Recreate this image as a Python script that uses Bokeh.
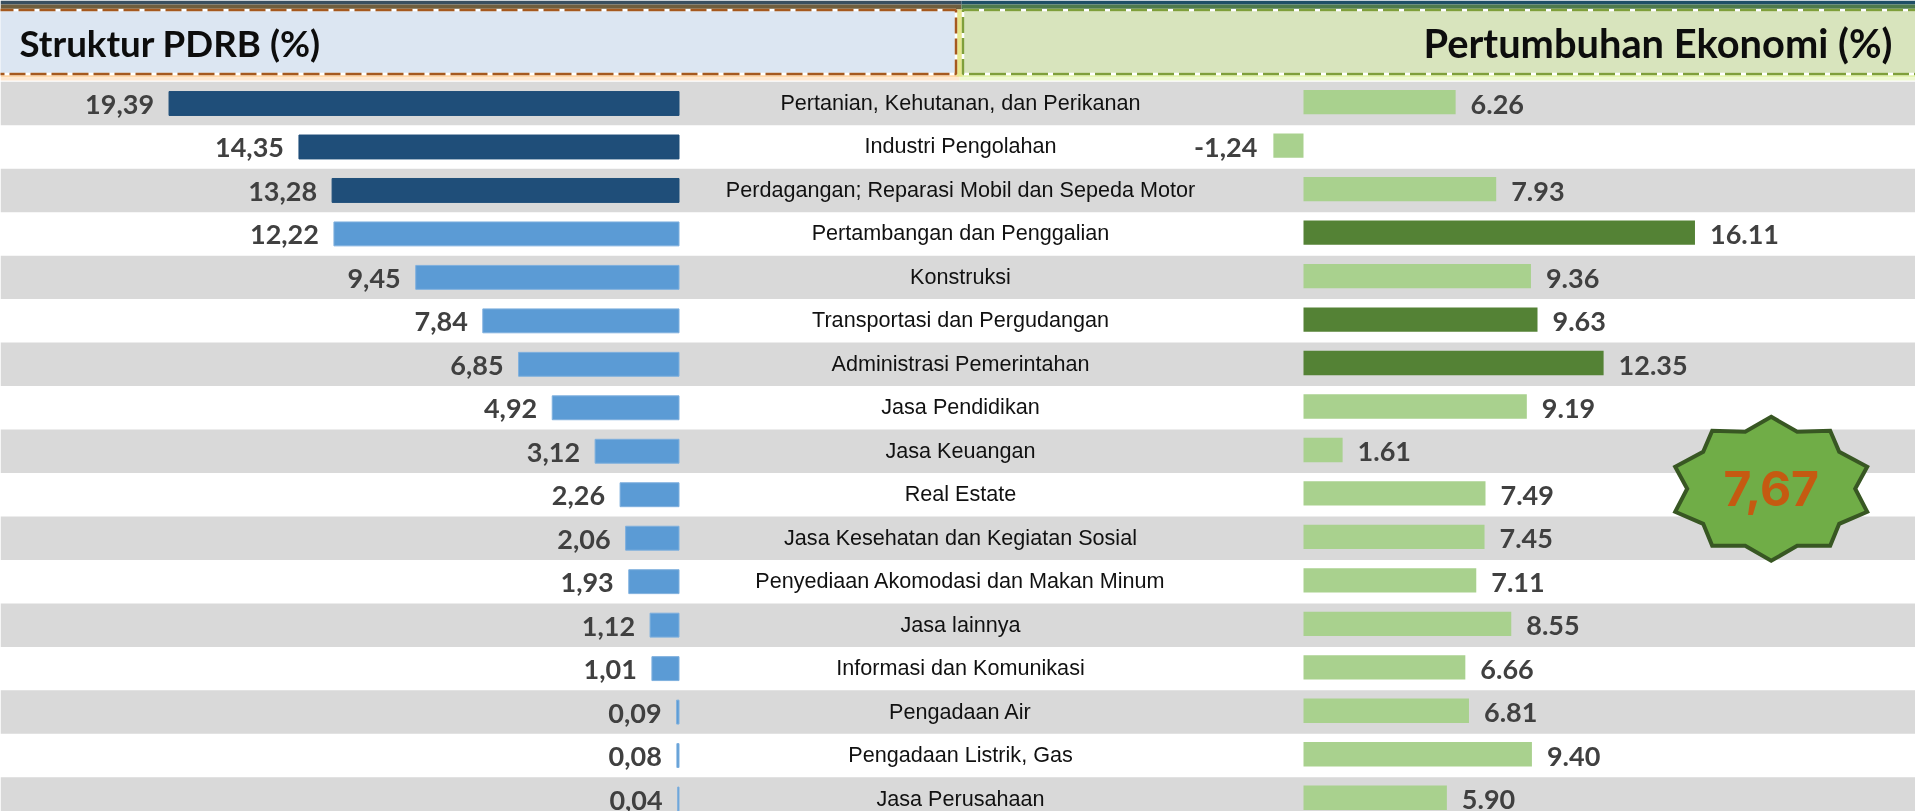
from bokeh.plotting import figure, ColumnDataSource
from bokeh.models import Range1d
from bokeh.core.properties import value
from bokeh.embed import file_html
from bokeh.resources import INLINE

sectors = ["Pertanian, Kehutanan, dan Perikanan", "Industri Pengolahan",
           "Perdagangan; Reparasi Mobil dan Sepeda Motor", "Pertambangan dan Penggalian",
           "Konstruksi", "Transportasi dan Pergudangan", "Administrasi Pemerintahan",
           "Jasa Pendidikan", "Jasa Keuangan", "Real Estate",
           "Jasa Kesehatan dan Kegiatan Sosial", "Penyediaan Akomodasi dan Makan Minum",
           "Jasa lainnya", "Informasi dan Komunikasi", "Pengadaan Air",
           "Pengadaan Listrik, Gas", "Jasa Perusahaan"]
# Printed labels, and the bar lengths as actually drawn in the picture (they differ a little)
struktur_labels = ["19,39", "14,35", "13,28", "12,22", "9,45", "7,84", "6,85", "4,92", "3,12",
                   "2,26", "2,06", "1,93", "1,12", "1,01", "0,09", "0,08", "0,04"]
struktur_bars = [19.39, 14.45, 13.19, 13.12, 10.01, 7.46, 6.10, 4.82, 3.19,
                 2.24, 2.03, 1.91, 1.10, 1.03, 0.09, 0.08, 0.05]
tumbuh_labels = ["6.26", "-1,24", "7.93", "16.11", "9.36", "9.63", "12.35", "9.19", "1.61",
                 "7.49", "7.45", "7.11", "8.55", "6.66", "6.81", "9.40", "5.90"]
tumbuh_bars = [6.26, -1.24, 7.93, 16.11, 9.36, 9.63, 12.35, 9.19, 1.61,
               7.49, 7.45, 7.11, 8.55, 6.66, 6.81, 9.40, 5.90]
struktur_dark = [0, 1, 2]
tumbuh_dark = [3, 5, 6]
title_left = "Struktur PDRB (%)"
title_right = "Pertumbuhan Ekonomi (%)"
total_growth = "7,67"

W, H = 1915, 811
ROW = 43.47
rows = list(range(len(sectors)))

p = figure(width=W, height=H, output_backend="svg", toolbar_location=None,
           x_range=Range1d(0, W), y_range=Range1d(H, 0),
           x_axis_location=None, y_axis_location=None,
           min_border=0, outline_line_color=None, background_fill_color="white")
p.grid.visible = False
p.styles = {"position": "fixed", "left": "0px", "top": "0px"}

L0, LS = 678.5, 26.3
R0, RS = 1303.0, 24.3
p.extra_x_ranges = {"left": Range1d(L0 / LS, (L0 - W) / LS),
                    "right": Range1d(-R0 / RS, (W - R0) / RS)}
p.extra_y_ranges = {"rowsL": Range1d((H - 103.0) / ROW, -103.0 / ROW),
                    "rowsR": Range1d((H - 101.7) / ROW, -101.7 / ROW)}

# alternating bands
p.hbar(y=[r for r in rows if r % 2 == 0], left=0, right=W, height=1.0, y_range_name="rowsL",
       fill_color="#D9D9D9", line_color=None)

# header: photo strip
for top, bot, x0, x1, col in [(0, 4, 0, 961, "#3A4F5F"), (4, 9, 0, 961, "#6F5E3E"),
                              (0, 4, 961, W, "#1F4F66"), (4, 9, 961, W, "#4E7A4C")]:
    p.quad(left=x0, right=x1, top=top, bottom=bot, fill_color=col, line_color=None)

# glow under headers
for top, bot, col_l, col_r in [(74, 77, "#FFD7A8", "#E4F4AE"), (77, 80, "#FDE8D2", "#EEF8D0")]:
    p.quad(left=0, right=959, top=top, bottom=bot, fill_color=col_l, line_color=None)
    p.quad(left=959, right=W, top=top, bottom=bot, fill_color=col_r, line_color=None)
p.quad(left=956, right=962, top=9, bottom=76, fill_color="#E6E88E", line_color=None)

# panels
p.quad(left=-3, right=955.5, top=9.5, bottom=73.5, fill_color="#DCE6F2",
       line_color="white", line_width=2.5)
p.quad(left=-3, right=955.5, top=9.5, bottom=73.5, fill_color=None,
       line_color="#A5591F", line_width=2.5, line_dash="16 5")
p.quad(left=962.5, right=W + 3, top=9.5, bottom=73.5, fill_color="#D8E4BD",
       line_color="white", line_width=2.5)
p.quad(left=962.5, right=W + 3, top=9.5, bottom=73.5, fill_color=None,
       line_color="#7F9F3B", line_width=2.5, line_dash="16 5")

p.text(x=[19], y=[42], text=[title_left], text_font=value("Lato"), text_font_style="bold",
       text_font_size="36.7px", text_color="#0D0D0D", text_align="left", text_baseline="middle")
p.text(x=[1892], y=[42], text=[title_right], text_font=value("Lato"), text_font_style="bold",
       text_font_size="39.8px", text_color="#0D0D0D", text_align="right", text_baseline="middle")

# left bars
src_l = ColumnDataSource(dict(y=rows, v=struktur_bars, t=struktur_labels,
                              c=["#1F4E79" if r in struktur_dark else "#5B9BD5" for r in rows],
                              lc=["#1F4E79" if r in struktur_dark else "#7FB0DE" for r in rows]))
p.hbar(y="y", left=0, right="v", height=0.55, source=src_l, x_range_name="left",
       y_range_name="rowsL", fill_color="c", line_color="lc", line_width=1)
p.text(x="v", y="y", text="t", source=src_l, x_range_name="left", y_range_name="rowsL",
       x_offset=-15, y_offset=1, text_align="right", text_baseline="middle", text_color="#404040",
       text_font=value("Lato"), text_font_style="bold", text_font_size="27px")

# right bars
src_r = ColumnDataSource(dict(y=rows, v=tumbuh_bars, t=tumbuh_labels,
                              c=["#548235" if r in tumbuh_dark else "#A9D18E" for r in rows],
                              off=[-16 if v < 0 else 15 for v in tumbuh_bars],
                              al=["right" if v < 0 else "left" for v in tumbuh_bars]))
p.hbar(y="y", left=0, right="v", height=0.56, source=src_r, x_range_name="right",
       y_range_name="rowsR", fill_color="c", line_color=None)
p.text(x="v", y="y", text="t", source=src_r, x_range_name="right", y_range_name="rowsR",
       x_offset="off", y_offset=2, text_align="al", text_baseline="middle", text_color="#404040",
       text_font=value("Lato"), text_font_style="bold", text_font_size="27px")

# sector names
p.text(x=[960] * len(rows), y=rows, text=sectors, y_range_name="rowsL", y_offset=-1,
       text_align="center", text_baseline="middle", text_color="#111111",
       text_font=value("Liberation Sans"), text_font_size="21.6px")

# badge
cx, cy = 1770.7, 488.3
dx = [0, 26, 59, 68, 96, 84, 96, 68, 59, 26, 0, -26, -59, -68, -96, -84, -96, -68, -59, -26]
dy = [-72, -57, -58, -37, -22, 0, 23, 35, 57, 57, 72, 57, 57, 35, 23, 0, -22, -37, -58, -57]
p.patch([cx + a for a in dx], [cy + b for b in dy], fill_color="#70AD47",
        line_color="#385723", line_width=4, line_join="miter")
p.text(x=[cx], y=[cy], text=[total_growth], text_align="center", text_baseline="middle",
       text_color="#C55A11", text_font=value("Inter"), text_font_style="bold",
       text_font_size="48px")

open("out.html", "w").write(file_html(p, INLINE))
